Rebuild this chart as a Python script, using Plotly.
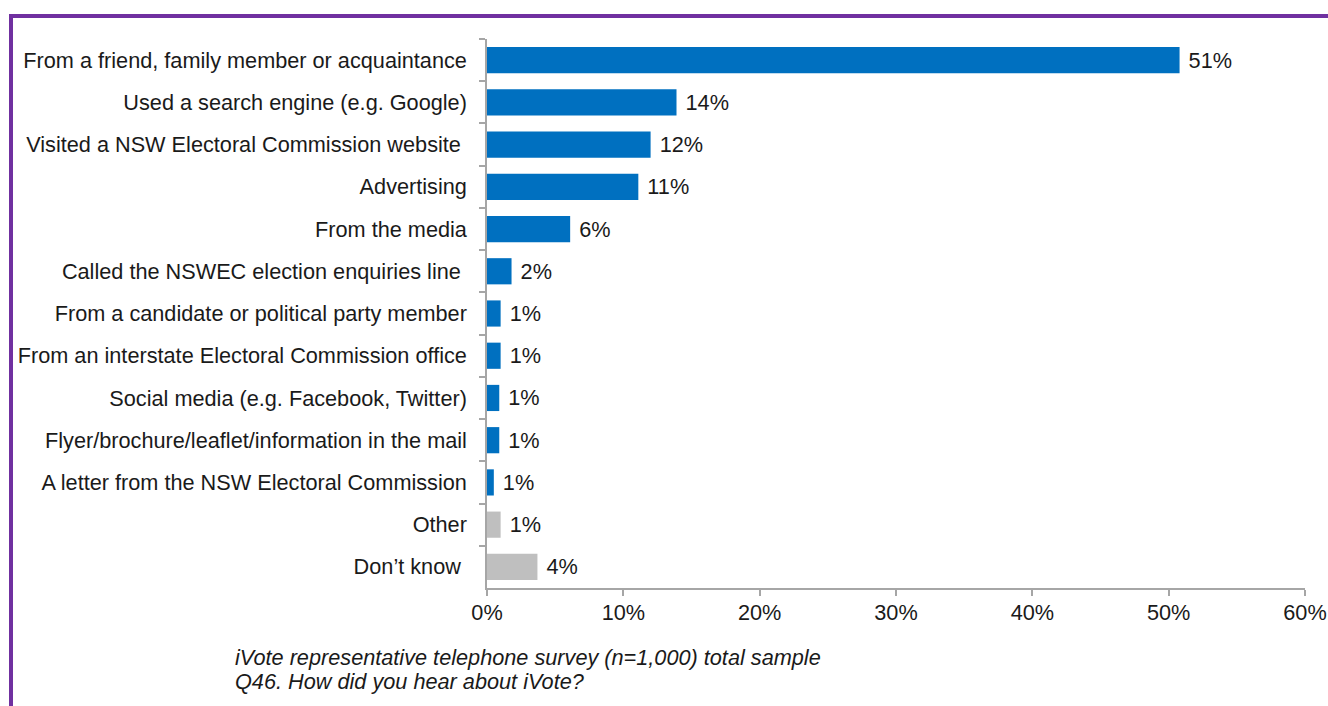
import plotly.graph_objects as go

categories = [
    "From a friend, family member or acquaintance",
    "Used a search engine (e.g. Google)",
    "Visited a NSW Electoral Commission website\u00a0",
    "Advertising",
    "From the media",
    "Called the NSWEC election enquiries line\u00a0",
    "From a candidate or political party member",
    "From an interstate Electoral Commission office",
    "Social media (e.g. Facebook, Twitter)",
    "Flyer/brochure/leaflet/information in the mail",
    "A letter from the NSW Electoral Commission",
    "Other",
    "Don\u2019t know\u00a0",
]
values = [50.8, 13.9, 12.0, 11.1, 6.1, 1.8, 1.0, 1.0, 0.9, 0.9, 0.5, 1.0, 3.7]
labels = ["51%", "14%", "12%", "11%", "6%", "2%", "1%", "1%", "1%", "1%", "1%", "1%", "4%"]
colors = ["#0070C0"] * 11 + ["#BFBFBF"] * 2
x_ticks = [0, 10, 20, 30, 40, 50, 60]
x_tick_labels = ["0%", "10%", "20%", "30%", "40%", "50%", "60%"]
footnote = ["iVote representative telephone survey (n=1,000) total sample",
            "Q46. How did you hear about iVote?"]

FONT = "Liberation Sans, Arial"
FS = 21.7
TXT = "#1a1a1a"

fig = go.Figure(go.Bar(
    x=values, y=categories, orientation="h",
    marker=dict(color=colors, line=dict(width=0)),
    width=0.62,
    text=labels, texttemplate="\u00a0%{text}",
    textposition="outside", cliponaxis=False,
    textfont=dict(size=FS, color=TXT, family=FONT),
))

W, H = 1328, 706
L, R, T, B = 487, 23, 39, 118
pw, ph = W - L - R, H - T - B

def px_x(px):
    return (px - L) / pw

def px_y(py):
    return (H - B - py) / ph

purple = "#7030A0"
fig.add_shape(type="line", xref="paper", yref="paper",
              x0=px_x(11), x1=px_x(1330), y0=px_y(16), y1=px_y(16),
              line=dict(color=purple, width=4))
fig.add_shape(type="line", xref="paper", yref="paper",
              x0=px_x(11), x1=px_x(11), y0=px_y(14), y1=px_y(710),
              line=dict(color=purple, width=4))

for i, line in enumerate(footnote):
    fig.add_annotation(xref="paper", yref="paper", x=px_x(233), y=px_y(657 + 24 * i),
                       xanchor="left", yanchor="middle", align="left", showarrow=False,
                       text="<i>" + line + "</i>",
                       font=dict(size=FS, color=TXT, family=FONT))

fig.update_layout(
    width=W, height=H,
    margin=dict(l=L, r=R, t=T, b=B, autoexpand=False),
    paper_bgcolor="white", plot_bgcolor="white",
    showlegend=False,
    font=dict(family=FONT, size=FS, color=TXT),
    xaxis=dict(range=[0, 60], tickvals=x_ticks, ticktext=x_tick_labels,
               showgrid=False, zeroline=False,
               showline=True, linecolor="#A6A6A6", linewidth=1.5,
               ticks="outside", ticklen=6, tickcolor="#A6A6A6", tickwidth=1.5,
               ticklabelstandoff=-2,
               tickfont=dict(size=FS, color=TXT)),
    yaxis=dict(autorange="reversed", type="category",
               showgrid=False, zeroline=False,
               showline=True, linecolor="#A6A6A6", linewidth=1.5,
               ticks="outside", ticklen=6, tickcolor="#A6A6A6", tickwidth=1.5,
               tickson="boundaries", ticklabelstandoff=14,
               tickfont=dict(size=FS, color=TXT)),
    bargap=0.38,
)

fig.write_html("out.html")
